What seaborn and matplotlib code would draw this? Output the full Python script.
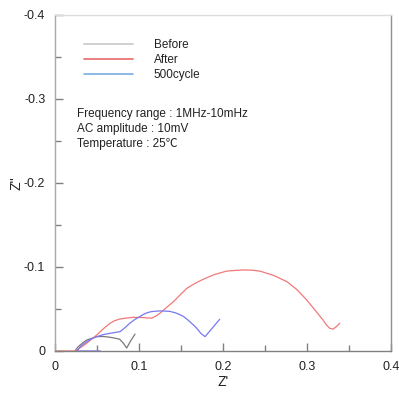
import matplotlib
matplotlib.use("Agg")
import matplotlib.pyplot as plt
import seaborn as sns
import pandas as pd
from matplotlib.lines import Line2D

sns.set_theme(style="white")
plt.rcParams['font.family'] = ['Liberation Sans', 'Noto Sans CJK JP', 'DejaVu Sans']

# Data (Z', Z'')
before_x = [0.0238, 0.0265, 0.0298, 0.0335, 0.0377, 0.0435, 0.0496, 0.0580, 0.0655, 0.0715,
            0.0770, 0.0815, 0.0853, 0.0900, 0.0952]
before_y = [0.0, -0.004, -0.007, -0.010, -0.013, -0.015, -0.017, -0.0172, -0.0163, -0.0152,
            -0.0139, -0.009, -0.0035, -0.012, -0.020]

after_x = [0.0, 0.024, 0.031, 0.0377, 0.0496, 0.057, 0.0655, 0.071, 0.077, 0.085, 0.093, 0.104,
           0.115, 0.120, 0.125, 0.133, 0.141, 0.149, 0.157, 0.165, 0.173, 0.182, 0.190, 0.204,
           0.214, 0.224, 0.234, 0.244, 0.260, 0.276, 0.288, 0.2996, 0.310, 0.319, 0.323, 0.327,
           0.331, 0.335, 0.339]
after_y = [0.0, 0.0, -0.0045, -0.0092, -0.019, -0.026, -0.033, -0.0360, -0.038, -0.0392, -0.040,
           -0.0398, -0.039, -0.0415, -0.045, -0.052, -0.0587, -0.0668, -0.0746, -0.0795, -0.0837,
           -0.0878, -0.091, -0.095, -0.0958, -0.0964, -0.0962, -0.095, -0.090, -0.0825, -0.073,
           -0.0607, -0.048, -0.0369, -0.031, -0.027, -0.026, -0.029, -0.033]

cyc_x = [0.054, 0.030, 0.026, 0.031, 0.0377, 0.0435, 0.0496, 0.0575, 0.0655, 0.0715, 0.0774,
         0.083, 0.089, 0.095, 0.101, 0.107, 0.113, 0.119, 0.125, 0.131, 0.137, 0.143, 0.149,
         0.153, 0.158, 0.1647, 0.1687, 0.1735, 0.1786, 0.187, 0.196]
cyc_y = [0.0, 0.0, 0.0, -0.006, -0.011, -0.0145, -0.017, -0.0195, -0.021, -0.022, -0.023,
         -0.0275, -0.033, -0.0375, -0.041, -0.0445, -0.0465, -0.0473, -0.0476, -0.0475, -0.047,
         -0.0455, -0.043, -0.041, -0.037, -0.031, -0.027, -0.021, -0.017, -0.027, -0.0377]

series_names = ["Before", "After", "500cycle"]
plot_colors = {"Before": "#7a7a7a", "After": "#f27878", "500cycle": "#7878f2"}
legend_colors = ["#c8c8c8", "#e86a6a", "#78aee0"]

frames = []
for name, xs, ys in zip(series_names, [before_x, after_x, cyc_x], [before_y, after_y, cyc_y]):
    frames.append(pd.DataFrame({"x": xs, "y": ys, "series": name}))
df = pd.concat(frames, ignore_index=True)

fig = plt.figure(figsize=(3.99, 3.93), dpi=100)
ax = fig.add_axes([0.138, 0.107, 0.842, 0.855])

sns.lineplot(data=df, x="x", y="y", hue="series", units="series", estimator=None,
             sort=False, palette=plot_colors, linewidth=0.9, legend=False, ax=ax)

ax.set_xlim(0, 0.4)
ax.set_ylim(0, -0.4)
ax.set_xticks([0, 0.1, 0.2, 0.3, 0.4])
ax.set_xticklabels(["0", "0.1", "0.2", "0.3", "0.4"])
ax.set_yticks([0, -0.1, -0.2, -0.3, -0.4])
ax.set_yticklabels(["0", "-0.1", "-0.2", "-0.3", "-0.4"])
ax.set_xticks([0.05, 0.15, 0.25, 0.35], minor=True)
ax.set_yticks([-0.05, -0.15, -0.25, -0.35], minor=True)
ax.tick_params(which="both", direction="in", colors="#808080", labelcolor="#222222",
               labelsize=9, width=1)
ax.tick_params(which="major", length=6, pad=7)
ax.tick_params(which="minor", length=4)
ax.tick_params(axis="x", which="both", top=False, bottom=True)
ax.tick_params(axis="y", which="both", left=True, right=False)

ax.spines["left"].set_color("#a8a8a8")
ax.spines["bottom"].set_color("#808080")
ax.spines["top"].set_color("#dcdcdc")
ax.spines["right"].set_color("#909090")
for s in ax.spines.values():
    s.set_linewidth(1.0)

ax.set_xlabel("Z'", fontsize=10, color="#222222", labelpad=2)
ax.set_ylabel("Z''", fontsize=10, color="#222222", labelpad=0)

handles = [Line2D([0], [0], color=c, lw=1.2) for c in legend_colors]
ax.legend(handles, series_names, loc="upper left", bbox_to_anchor=(0.055, 0.96),
          frameon=False, fontsize=8.5, handlelength=4.1, handletextpad=1.8,
          labelspacing=0.25, labelcolor="#222222")

info = ["Frequency range : 1MHz-10mHz", "AC amplitude : 10mV", "Temperature : 25\u2103"]
for i, t in enumerate(info):
    ax.text(0.065, 0.705 - i * 0.045, t, transform=ax.transAxes, fontsize=8.5,
            color="#222222", va="center", ha="left")

fig.savefig("out.png", dpi=100)
